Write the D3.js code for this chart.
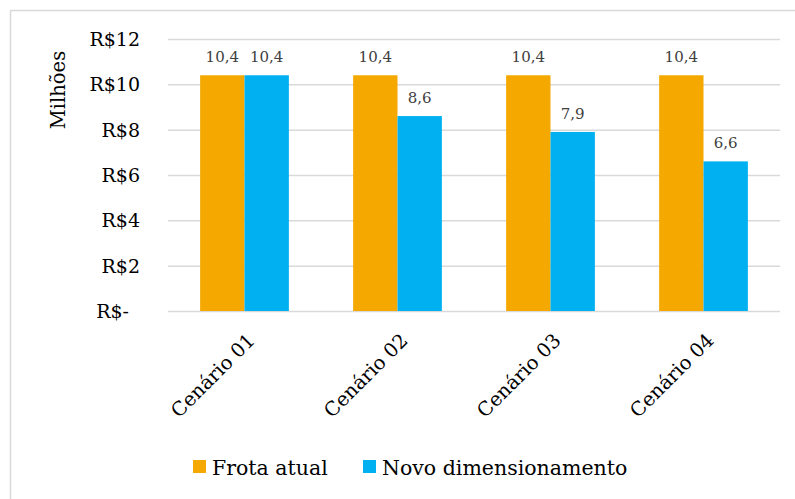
<!DOCTYPE html>
<html>
<head>
<meta charset="utf-8">
<script src="https://cdn.jsdelivr.net/npm/d3@7"></script>
<style>
  html, body { margin: 0; padding: 0; background: #fff; }
  svg { display: block; }
  text { font-family: "DejaVu Serif", "Liberation Serif", serif; }
</style>
</head>
<body>
<svg id="chart" width="795" height="499"></svg>
<script>
const categories = ['Cenário 01', 'Cenário 02', 'Cenário 03', 'Cenário 04'];
const seriesNames = ['Frota atual', 'Novo dimensionamento'];
const frotaAtual = [10.4, 10.4, 10.4, 10.4];
const novoDim    = [10.4, 8.6, 7.9, 6.6];
const yTicks = [0, 2, 4, 6, 8, 10, 12];
const colors = ['#F5A800', '#00B0F0'];

const svg = d3.select('#chart');

// chart frame
svg.append('rect')
  .attr('x', 10.5).attr('y', 10.5)
  .attr('width', 800).attr('height', 500)
  .attr('fill', 'none').attr('stroke', '#D9D9D9').attr('stroke-width', 1.5);

const plot = { left: 168, right: 780, top: 39, bottom: 311 };

const x0 = d3.scaleBand().domain(categories).range([plot.left, plot.right]).paddingInner(0.42).paddingOuter(0.21);
const x1 = d3.scaleBand().domain(seriesNames).range([0, x0.bandwidth()]);
const y = d3.scaleLinear().domain([0, 12]).range([plot.bottom, plot.top]);

// gridlines
svg.append('g').selectAll('line').data(yTicks).join('line')
  .attr('x1', plot.left).attr('x2', plot.right)
  .attr('y1', d => y(d) + 0.5).attr('y2', d => y(d) + 0.5)
  .attr('stroke', '#D9D9D9').attr('stroke-width', 1.5);

// y tick labels
svg.append('g').selectAll('text').data(yTicks).join('text')
  .attr('x', d => d === 0 ? 129 : 140)
  .attr('y', d => y(d) + 7)
  .attr('text-anchor', 'end')
  .attr('font-size', 19)
  .attr('fill', '#000')
  .text(d => d === 0 ? 'R$-' : `R$${d}`);

// y axis title
svg.append('text')
  .attr('transform', 'translate(65,90) rotate(-90)')
  .attr('text-anchor', 'middle')
  .attr('font-size', 19.5)
  .text('Milhões');

const rows = categories.map((c, i) => ({ cat: c, vals: [frotaAtual[i], novoDim[i]] }));

const groups = svg.append('g').selectAll('g').data(rows).join('g')
  .attr('transform', d => `translate(${x0(d.cat)},0)`);

groups.selectAll('rect').data(d => d.vals.map((v, j) => ({ v, s: seriesNames[j], j }))).join('rect')
  .attr('x', d => x1(d.s))
  .attr('y', d => y(d.v))
  .attr('width', x1.bandwidth())
  .attr('height', d => y(0) - y(d.v))
  .attr('fill', d => colors[d.j]);

groups.selectAll('text').data(d => d.vals.map((v, j) => ({ v, s: seriesNames[j] }))).join('text')
  .attr('x', d => x1(d.s) + x1.bandwidth() / 2)
  .attr('y', d => y(d.v) - 13)
  .attr('text-anchor', 'middle')
  .attr('font-size', 15)
  .attr('fill', '#404040')
  .text(d => d.v.toFixed(1).replace('.', ','));

// x labels
svg.append('g').selectAll('text').data(categories).join('text')
  .attr('transform', d => `translate(${x0(d) + x0.bandwidth() / 2 + 2},332) rotate(-45)`)
  .attr('text-anchor', 'end')
  .attr('dy', '0.7em')
  .attr('font-size', 19.5)
  .text(d => d);

// legend
const legendX = [193, 363];
const legend = svg.append('g').selectAll('g').data(seriesNames).join('g')
  .attr('transform', (d, i) => `translate(${legendX[i]},460)`);
legend.append('rect').attr('width', 13).attr('height', 13).attr('fill', (d, i) => colors[i]);
legend.append('text').attr('x', 19).attr('y', 14.5).attr('font-size', 20.5).text(d => d);
</script>
</body>
</html>
